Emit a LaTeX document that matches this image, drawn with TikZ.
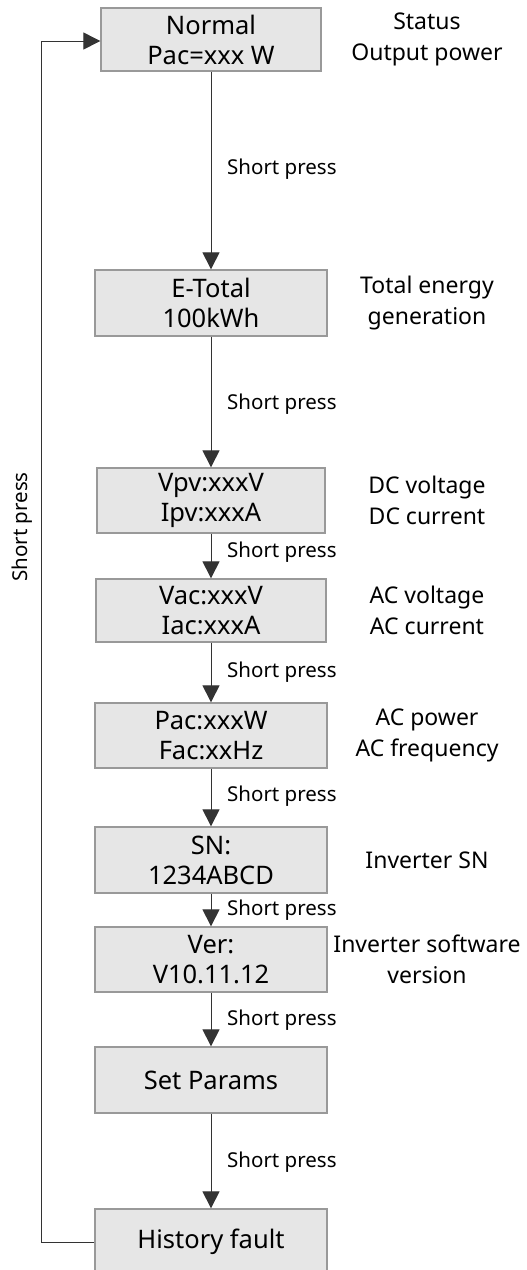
\documentclass[tikz,border=0pt]{standalone}
\usepackage{fontspec}
\setmainfont{Noto Sans}
\usetikzlibrary{arrows.meta}
\definecolor{boxfill}{HTML}{E6E6E6}
\definecolor{boxline}{HTML}{999999}
\definecolor{linec}{HTML}{333333}
\tikzset{
  stepbox/.style={draw=boxline, fill=boxfill, line width=1.3bp, inner sep=0pt, align=center,
    font=\fontsize{25.5bp}{30bp}\selectfont},
  note/.style={align=center, inner sep=0pt, font=\fontsize{23bp}{31bp}\selectfont},
  presslbl/.style={anchor=west, inner sep=0pt, font=\fontsize{20.5bp}{24bp}\selectfont},
  flow/.style={draw=linec, line width=1bp, -{Triangle[width=17bp,length=17bp]}},
}
\begin{document}
\begin{tikzpicture}[x=1bp,y=-1bp]
\useasboundingbox (0,0) rectangle (527,1270);
\node[stepbox, minimum width=220bp, minimum height=63bp] (n1) at (211,39.5) {Normal\\Pac=xxx W};
\node[stepbox, minimum width=232bp, minimum height=66bp] (n2) at (211,303) {E-Total\\100kWh};
\node[stepbox, minimum width=228bp, minimum height=65bp] (n3) at (211,500.5) {Vpv:xxxV\\Ipv:xxxA};
\node[stepbox, minimum width=230bp, minimum height=63bp] (n4) at (211,610.5) {Vac:xxxV\\Iac:xxxA};
\node[stepbox, minimum width=232bp, minimum height=65bp] (n5) at (211,735.5) {Pac:xxxW\\Fac:xxHz};
\node[stepbox, minimum width=232bp, minimum height=66bp] (n6) at (211,860) {SN:\\1234ABCD};
\node[stepbox, minimum width=232bp, minimum height=65bp] (n7) at (211,959.5) {Ver:\\V10.11.12};
\node[stepbox, minimum width=232bp, minimum height=66bp] (n8) at (211,1080) {Set Params};
\node[stepbox, minimum width=232bp, minimum height=66bp] (n9) at (211,1242) {History fault};

\node[note] (d1) at (427,39.5) {Status\\Output power};
\node[note] (d2) at (427,303) {Total energy\\generation};
\node[note] (d3) at (427,500.5) {DC voltage\\DC current};
\node[note] (d4) at (427,610.5) {AC voltage\\AC current};
\node[note] (d5) at (427,735.5) {AC power\\AC frequency};
\node[note] (d6) at (427,860) {Inverter SN};
\node[note] (d7) at (427,959.5) {Inverter software\\version};

\draw[flow] (n1) -- (n2);
\draw[flow] (n2) -- (n3);
\draw[flow] (n3) -- (n4);
\draw[flow] (n4) -- (n5);
\draw[flow] (n5) -- (n6);
\draw[flow] (n6) -- (n7);
\draw[flow] (n7) -- (n8);
\draw[flow] (n8) -- (n9);

\node[presslbl] (p1) at (227,169) {Short press};
\node[presslbl] (p2) at (227,404) {Short press};
\node[presslbl] (p3) at (227,552) {Short press};
\node[presslbl] (p4) at (227,672) {Short press};
\node[presslbl] (p5) at (227,796) {Short press};
\node[presslbl] (p6) at (227,910) {Short press};
\node[presslbl] (p7) at (227,1020) {Short press};
\node[presslbl] (p8) at (227,1162) {Short press};

\coordinate (lb) at (41,1242);
\coordinate (lt) at (41,41);
\draw[flow] (n9.west) -- (lb) -- (lt) -- (n1.west |- lt);
\node[rotate=90, inner sep=0pt, font=\fontsize{20.5bp}{24bp}\selectfont] (pl) at (22,527) {Short press};
\end{tikzpicture}
\end{document}
